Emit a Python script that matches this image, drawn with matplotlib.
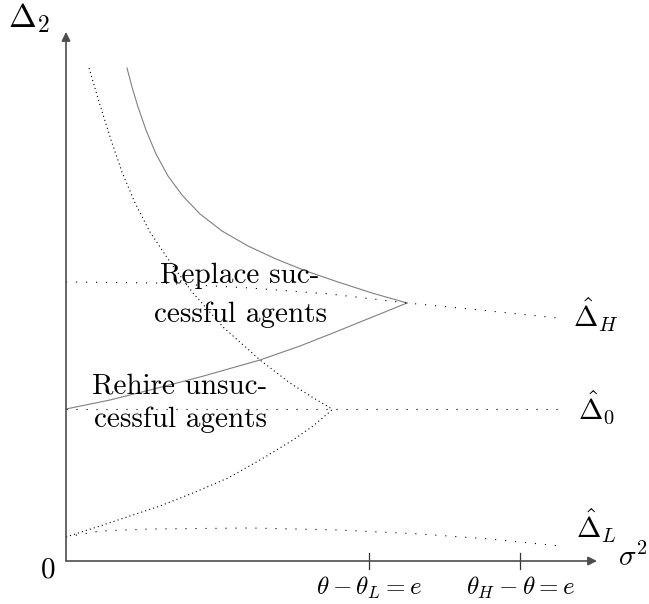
import matplotlib
matplotlib.use("Agg")
import matplotlib.pyplot as plt

plt.rcParams['font.family'] = 'serif'
plt.rcParams['font.serif'] = ['cmr10']
plt.rcParams['mathtext.fontset'] = 'cm'
plt.rcParams['lines.scale_dashes'] = False

# upper solid branch (replace successful agents boundary)
solid_up_x = [0.61, 0.66, 0.72, 0.80, 0.90, 1.02, 1.16, 1.34, 1.56, 1.82, 2.10, 2.40, 2.72, 3.06, 3.41]
solid_up_y = [4.93, 4.74, 4.54, 4.31, 4.07, 3.85, 3.66, 3.47, 3.30, 3.15, 3.02, 2.90, 2.79, 2.68, 2.58]
# lower solid branch
solid_lo_x = [0.0, 0.44, 0.84, 1.34, 1.94, 2.34, 2.67, 3.04, 3.41]
solid_lo_y = [1.52, 1.61, 1.71, 1.84, 2.01, 2.15, 2.28, 2.43, 2.58]
# upper dotted branch (rehire unsuccessful agents boundary)
dot_up_x = [0.23, 0.34, 0.45, 0.56, 0.69, 0.84, 1.04, 1.27, 1.57, 1.94, 2.24, 2.46, 2.66]
dot_up_y = [4.93, 4.56, 4.21, 3.89, 3.58, 3.29, 2.99, 2.68, 2.34, 2.01, 1.78, 1.64, 1.52]
# lower dotted branch
dot_lo_x = [0.0, 0.34, 0.61, 0.94, 1.27, 1.62, 1.94, 2.27, 2.47, 2.67]
dot_lo_y = [0.24, 0.35, 0.44, 0.55, 0.68, 0.83, 1.01, 1.21, 1.35, 1.52]
# threshold curves
dh_x = [0.0, 0.94, 1.84, 2.64, 3.41, 4.14, 4.92]
dh_y = [2.79, 2.78, 2.73, 2.67, 2.58, 2.51, 2.43]
d0_x = [0.0, 4.94]
d0_y = [1.52, 1.52]
dl_x = [0.0, 0.34, 0.84, 1.84, 2.74, 3.54, 4.24, 4.94]
dl_y = [0.24, 0.30, 0.32, 0.33, 0.31, 0.27, 0.22, 0.15]

tick_pos = [3.03, 4.54]
tick_labels = [r'$\theta-\theta_L=e$', r'$\theta_H-\theta=e$']

fig = plt.figure(figsize=(6.49, 6.04), dpi=100)
ax = fig.add_axes([0, 0, 1, 1])
ax.set_xlim(-0.66, 5.83)
ax.set_ylim(-0.43, 5.61)
ax.axis('off')

axis_col = '0.3'
ax.annotate('', xy=(5.31, 0), xytext=(0, 0),
            arrowprops=dict(arrowstyle='-|>', color=axis_col, lw=1.2, mutation_scale=13, shrinkA=0, shrinkB=0))
ax.annotate('', xy=(0, 5.29), xytext=(0, 0),
            arrowprops=dict(arrowstyle='-|>', color=axis_col, lw=1.2, mutation_scale=13, shrinkA=0, shrinkB=0))

for t in tick_pos:
    ax.plot([t, t], [-0.08, 0.08], color='0.2', lw=0.9)
for t, lab in zip(tick_pos, tick_labels):
    ax.text(t, -0.34, lab, fontsize=18, ha='center', va='baseline')

sparse = (0, (0.8, 6.4))
dense = (0, (0.8, 2.2))

ax.plot(solid_up_x, solid_up_y, color='0.5', lw=0.8)
ax.plot(solid_lo_x, solid_lo_y, color='0.5', lw=0.8)
ax.plot(dot_up_x, dot_up_y, color='black', lw=0.8, linestyle=dense)
ax.plot(dot_lo_x, dot_lo_y, color='black', lw=0.8, linestyle=dense)
ax.plot(dh_x, dh_y, color='black', lw=0.8, linestyle=sparse)
ax.plot(d0_x, d0_y, color='black', lw=0.8, linestyle=sparse)
ax.plot(dl_x, dl_y, color='black', lw=0.8, linestyle=sparse)

# region labels
ax.text(1.74, 2.78, 'Replace suc-', fontsize=21, ha='center', va='baseline')
ax.text(1.74, 2.39, 'cessful agents', fontsize=21, ha='center', va='baseline')
ax.text(1.14, 1.67, 'Rehire unsuc-', fontsize=21, ha='center', va='baseline')
ax.text(1.14, 1.34, 'cessful agents', fontsize=21, ha='center', va='baseline')

ax.text(5.07, 2.34, r'$\hat{\Delta}_H$', fontsize=21, ha='left', va='baseline')
ax.text(5.12, 1.42, r'$\hat{\Delta}_0$', fontsize=21, ha='left', va='baseline')
ax.text(5.10, 0.23, r'$\hat{\Delta}_L$', fontsize=21, ha='left', va='baseline')

ax.text(-0.37, 5.34, r'$\Delta_2$', fontsize=24, ha='center', va='baseline')
ax.text(5.52, -0.04, r'$\sigma^2$', fontsize=21, ha='left', va='baseline')
ax.text(-0.18, -0.09, '0', fontsize=21, ha='center', va='center')

fig.savefig('out.png', dpi=100)
